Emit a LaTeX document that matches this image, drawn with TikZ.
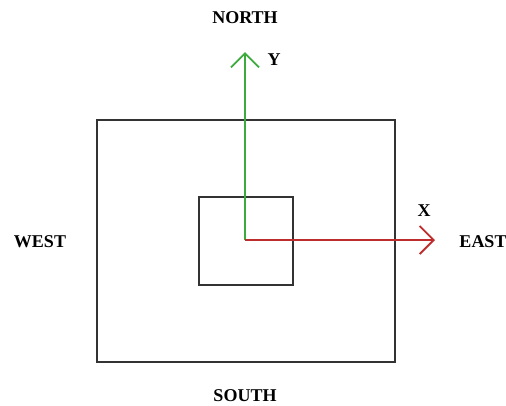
\documentclass[tikz,border=0pt]{standalone}
\usepackage{fontspec}
\setmainfont{Liberation Serif}
\usetikzlibrary{arrows.meta}
\definecolor{axgreen}{RGB}{60,170,60}
\definecolor{axred}{RGB}{190,45,45}
\begin{document}
\begin{tikzpicture}[x=1pt,y=-1pt,
  lbl/.style={font=\fontsize{18}{21}\selectfont\bfseries, inner sep=0pt},
  boxline/.style={draw=black!80, line width=2pt},
  axis/.style={line width=1.9pt, -{Straight Barb[length=14pt,width=28pt,line width=1.9pt]}}]
\useasboundingbox (0,0) rectangle (506,405);
\node[boxline, minimum width=298pt, minimum height=242pt, inner sep=0pt] (outer) at (246,241) {};
\node[boxline, minimum width=94pt, minimum height=88pt, inner sep=0pt] (inner) at (245.5,241) {};
\coordinate (O) at (245,240);
\coordinate (ytip) at (245,52);
\coordinate (xtip) at (435,240);
\draw[axis, axgreen] (O) -- (ytip);
\draw[axis, axred] (O) -- (xtip);
\node[lbl] (north) at (245,18) {NORTH};
\node[lbl] (south) at (245,396) {SOUTH};
\node[lbl] (west) at (40,242) {WEST};
\node[lbl] (east) at (483,242) {EAST};
\node[lbl] (ylab) at (274,60) {Y};
\node[lbl] (xlab) at (424,211) {X};
\end{tikzpicture}
\end{document}
